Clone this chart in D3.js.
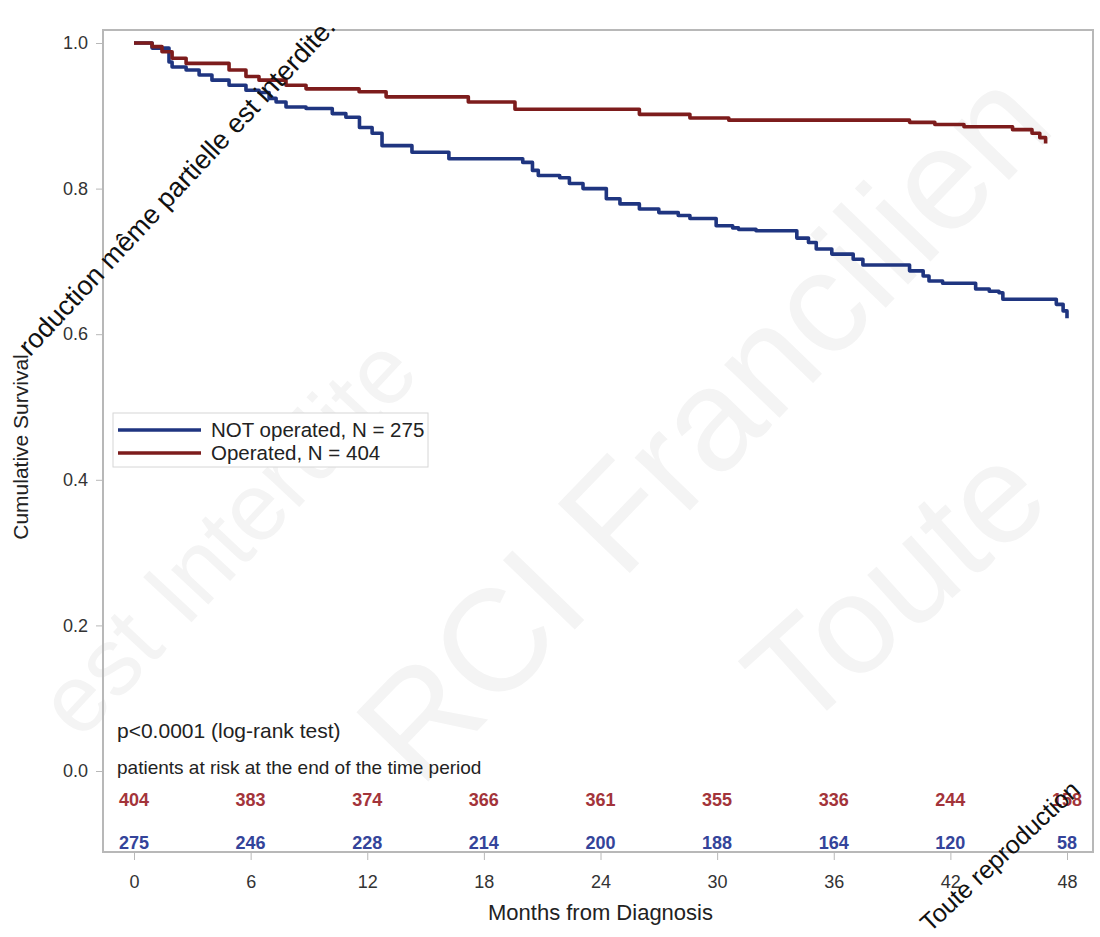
<!DOCTYPE html>
<html>
<head>
<meta charset="utf-8">
<script src="https://cdn.jsdelivr.net/npm/d3@7"></script>
<style>
  body { margin: 0; background: #fff; }
  text { font-family: "Liberation Sans", Arial, sans-serif; }
</style>
</head>
<body>
<svg id="chart" width="1100" height="937"></svg>
<script>
// Kaplan-Meier steps (months, cumulative survival)
let opTime = [0, 0.93, 1.44, 1.96, 2.68, 4.89, 5.76, 6.43, 7.82, 8.85, 11.58, 12.97, 17.2, 19.6, 26.0, 28.6, 30.6, 39.9, 41.2, 42.7, 45.2, 46.2, 46.6, 46.9];
let opSurv = [1.0, 0.995, 0.988, 0.979, 0.972, 0.963, 0.954, 0.949, 0.942, 0.937, 0.933, 0.926, 0.919, 0.909, 0.902, 0.897, 0.894, 0.891, 0.888, 0.885, 0.881, 0.876, 0.870, 0.862];

let notTime = [0, 0.93, 1.8, 1.96, 2.68, 3.35, 4.01, 4.89, 5.76, 6.43, 6.95, 7.31, 7.82, 8.85, 10.2, 10.9, 11.6, 12.25, 12.76, 14.3, 16.2, 20.0, 20.5, 20.8, 21.9, 22.4, 23.1, 24.3, 25.0, 26.0, 27.0, 28.0, 28.6, 29.95, 30.8, 31.1, 32.0, 34.1, 34.7, 35.1, 35.9, 37.0, 37.5, 39.9, 40.6, 40.9, 41.6, 43.3, 44.0, 44.5, 44.7, 47.45, 47.8, 48.0];
let notSurv = [1.0, 0.993, 0.974, 0.967, 0.963, 0.956, 0.949, 0.942, 0.935, 0.932, 0.924, 0.919, 0.912, 0.910, 0.903, 0.898, 0.884, 0.876, 0.859, 0.850, 0.841, 0.836, 0.825, 0.818, 0.815, 0.807, 0.800, 0.786, 0.779, 0.772, 0.767, 0.763, 0.759, 0.749, 0.746, 0.744, 0.742, 0.732, 0.726, 0.717, 0.710, 0.703, 0.695, 0.687, 0.680, 0.673, 0.670, 0.662, 0.659, 0.657, 0.648, 0.641, 0.632, 0.622];

// patients at risk table
let riskTimes = [0, 6, 12, 18, 24, 30, 36, 42, 48];
let riskOp = [404, 383, 374, 366, 361, 355, 336, 244, 158];
let riskNot = [275, 246, 228, 214, 200, 188, 164, 120, 58];

let yTicks = [0, 0.2, 0.4, 0.6, 0.8, 1.0];
let legendLabels = ["NOT operated, N = 275", "Operated, N = 404"];

function drawKM(svgId) {
  let svg = d3.select(svgId);
  let frame = {left: 103, right: 1093, top: 30, bottom: 852};
  let blue = "#1f3580", red = "#7d1c1c";
  let blueTxt = "#34449a", redTxt = "#a3343a";
  let font = "'Liberation Sans', Arial, sans-serif";

  // faint watermark behind everything
  let wm = svg.append("g").style("fill", "#f4f4f4");
  wm.append("text").attr("transform", "translate(80,742) rotate(-47)")
    .style("font-size", "96px").text("est Interdite");
  wm.append("text").attr("transform", "translate(420,790) rotate(-46)")
    .style("font-size", "145px").text("RCI Francilien");
  wm.append("text").attr("transform", "translate(800,735) rotate(-42)")
    .style("font-size", "140px").text("Toute");

  let x = d3.scaleLinear().domain([0, 48]).range([134, 1067]);
  let y = d3.scaleLinear().domain([0, 1]).range([771, 43]);

  // frame
  svg.append("rect")
    .attr("x", frame.left).attr("y", frame.top)
    .attr("width", frame.right - frame.left)
    .attr("height", frame.bottom - frame.top)
    .style("fill", "none").style("stroke", "#b8b8b8").style("stroke-width", 2);

  // y axis
  let yAxis = svg.append("g")
    .attr("transform", "translate(" + frame.left + ",0)")
    .call(d3.axisLeft(y).tickValues(yTicks).tickFormat(d3.format(".1f")).tickSize(7).tickPadding(8));
  yAxis.select(".domain").remove();
  yAxis.selectAll("line").style("stroke", "#b8b8b8");
  yAxis.selectAll("text").style("font-size", "18px").style("fill", "#333").style("font-family", font);

  // x axis
  let xAxis = svg.append("g")
    .attr("transform", "translate(0," + frame.bottom + ")")
    .call(d3.axisBottom(x).tickValues(riskTimes).tickSize(8).tickPadding(15));
  xAxis.select(".domain").remove();
  xAxis.selectAll("line").style("stroke", "#b8b8b8");
  xAxis.selectAll("text").style("font-size", "18px").style("fill", "#333").style("font-family", font);

  // axis titles
  svg.append("text")
    .attr("x", (x(0) + x(48)) / 2).attr("y", 920)
    .attr("text-anchor", "middle")
    .style("font-size", "22px").style("fill", "#222")
    .text("Months from Diagnosis");
  svg.append("text")
    .attr("transform", "translate(28,447) rotate(-90)")
    .attr("text-anchor", "middle")
    .style("font-size", "21px").style("fill", "#222")
    .text("Cumulative Survival");

  // survival curves
  let line = d3.line()
    .x(d => x(d[0]))
    .y(d => y(d[1]))
    .curve(d3.curveStepAfter);
  let series = [
    {pts: d3.zip(notTime, notSurv), color: blue},
    {pts: d3.zip(opTime, opSurv), color: red}
  ];
  svg.selectAll(".km")
    .data(series)
    .enter()
    .append("path")
      .attr("class", "km")
      .attr("d", d => line(d.pts))
      .style("fill", "none")
      .style("stroke", d => d.color)
      .style("stroke-width", 3.6)
      .style("stroke-linejoin", "round");

  // legend
  let lg = svg.append("g");
  lg.append("rect")
    .attr("x", 113).attr("y", 413).attr("width", 315).attr("height", 54)
    .style("fill", "#fff").style("stroke", "#d6d6d6").style("stroke-width", 1);
  lg.selectAll(".lgLine")
    .data(legendLabels)
    .enter()
    .append("line")
      .attr("x1", 118).attr("x2", 201)
      .attr("y1", (d, i) => 430 + i * 23)
      .attr("y2", (d, i) => 430 + i * 23)
      .style("stroke", (d, i) => i == 0 ? blue : red)
      .style("stroke-width", 3.6);
  lg.selectAll(".lgText")
    .data(legendLabels)
    .enter()
    .append("text")
      .attr("x", 211)
      .attr("y", (d, i) => 437 + i * 23)
      .style("font-size", "20.5px").style("fill", "#222")
      .text(d => d);

  // notes
  svg.append("text").attr("x", 117).attr("y", 738)
    .style("font-size", "21px").style("fill", "#222")
    .text("p<0.0001 (log-rank test)");
  svg.append("text").attr("x", 117).attr("y", 774)
    .style("font-size", "19px").style("fill", "#222")
    .text("patients at risk at the end of the time period");

  // at risk numbers
  svg.selectAll(".riskOp")
    .data(riskOp)
    .enter()
    .append("text")
      .attr("x", (d, i) => x(riskTimes[i]))
      .attr("y", frame.bottom - 46)
      .attr("text-anchor", "middle")
      .style("font-size", "18px").style("font-weight", "bold").style("fill", redTxt)
      .text(d => d);
  svg.selectAll(".riskNot")
    .data(riskNot)
    .enter()
    .append("text")
      .attr("x", (d, i) => x(riskTimes[i]))
      .attr("y", frame.bottom - 3)
      .attr("text-anchor", "middle")
      .style("font-size", "18px").style("font-weight", "bold").style("fill", blueTxt)
      .text(d => d);

  // black diagonal watermark lines
  svg.append("text").attr("transform", "translate(337,28) rotate(-47)")
    .attr("text-anchor", "end")
    .style("font-size", "27px").style("fill", "#111")
    .text("roduction même partielle est interdite.");
  svg.append("text").attr("transform", "translate(930,933) rotate(-43)")
    .style("font-size", "25px").style("fill", "#111")
    .text("Toute reproduction");
}

drawKM("#chart");
</script>
</body>
</html>
